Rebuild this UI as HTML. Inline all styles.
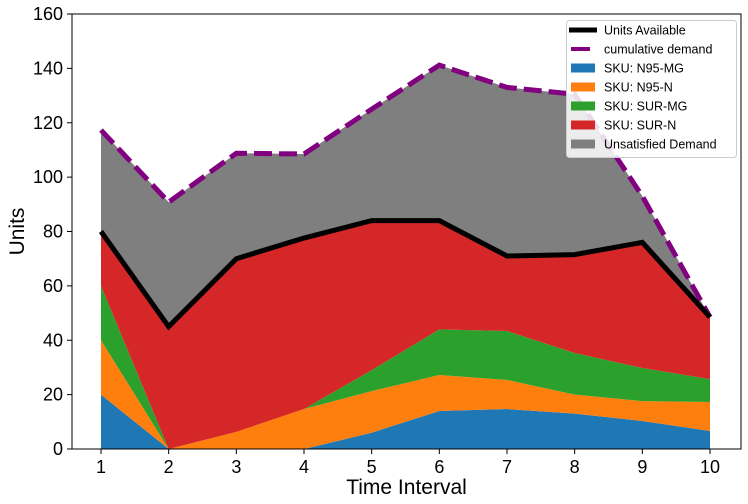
<!DOCTYPE html>
<html><head><meta charset="utf-8"><style>body{margin:0;background:#fff}svg{display:block;font-family:"Liberation Sans","DejaVu Sans",sans-serif}</style></head>
<body>
<svg id="chart" width="748" height="504"></svg>
<script>
const categories=[1,2,3,4,5,6,7,8,9,10];
const n95mg=[20,0,0,0,6,14,14.7,13,10.3,6.6];
const n95n=[20,0,6.3,14.7,15.3,13.2,10.7,7,7.3,10.7];
const surmg=[20,0,0,0,7.7,16.8,18,15.3,12.2,8.4];
const available=[80,45,70,77.6,84,84,71,71.5,76,48.5];
const demand=[117.3,90.8,108.8,108.5,125,141.2,133,130.5,93,48.5];
const yTicks=[0,20,40,60,80,100,120,140,160];
const L=72,R=741,T=14,B=449;
const x=v=>101+(v-1)*(710-101)/9;
const y=v=>B-v*(B-T)/160;
const NS="http://www.w3.org/2000/svg";
const svg=document.getElementById('chart');
function el(t,a,p){const e=document.createElementNS(NS,t);for(const k in a)e.setAttribute(k,a[k]);(p||svg).appendChild(e);return e;}
const c1=n95mg.map(v=>v);
const c2=c1.map((v,i)=>v+n95n[i]);
const c3=c2.map((v,i)=>v+surmg[i]);
const c4=available.slice();
const c5=demand.slice();
const zero=categories.map(()=>0);
function area(lo,hi,color,name){
  let d='M'+categories.map((c,i)=>x(c)+','+y(hi[i])).join('L');
  for(let i=categories.length-1;i>=0;i--)d+='L'+x(categories[i])+','+y(lo[i]);
  const p=el('path',{d:d+'Z',fill:color});
  
  
}
area(zero,c1,'#1f77b4','area-n95-mg');
area(c1,c2,'#ff7f0e','area-n95-n');
area(c2,c3,'#2ca02c','area-sur-mg');
area(c3,c4,'#d62728','area-sur-n');
area(c4,c5,'#7f7f7f','area-unsatisfied-demand');
const pl=arr=>'M'+categories.map((c,i)=>x(c)+','+y(arr[i])).join('L');
const dl=el('path',{d:pl(demand),fill:'none',stroke:'#800080','stroke-width':5,'stroke-dasharray':'18,7'});


const al=el('path',{d:pl(available),fill:'none',stroke:'#000','stroke-width':5});


const fr=el('rect',{x:L,y:T,width:R-L,height:B-T,fill:'none',stroke:'#000','stroke-width':1});


yTicks.forEach(t=>{
  el('line',{x1:L-5,x2:L,y1:y(t),y2:y(t),stroke:'#000'});
  const tx=el('text',{x:L-9,y:y(t)+6,'text-anchor':'end','font-size':18});
  tx.textContent=t;
  
  
});
categories.forEach(c=>{
  el('line',{x1:x(c),x2:x(c),y1:B,y2:B+5,stroke:'#000'});
  const tx=el('text',{x:x(c),y:B+24,'text-anchor':'middle','font-size':18});
  tx.textContent=c;
  
  
});
const xt=el('text',{x:(L+R)/2,y:494,'text-anchor':'middle','font-size':21});
xt.textContent='Time Interval';


const yt=el('text',{x:0,y:0,transform:'translate(24,'+((T+B)/2)+') rotate(-90)','text-anchor':'middle','font-size':21});
yt.textContent='Units';


const lg=el('g',{});


el('rect',{x:566.5,y:20.5,width:170,height:137,rx:3,fill:'#fff','fill-opacity':0.85,stroke:'#ccc'},lg);
const items=[['Units Available','line','#000'],['cumulative demand','dash','#800080'],['SKU: N95-MG','rect','#1f77b4'],['SKU: N95-N','rect','#ff7f0e'],['SKU: SUR-MG','rect','#2ca02c'],['SKU: SUR-N','rect','#d62728'],['Unsatisfied Demand','rect','#7f7f7f']];
items.forEach((it,i)=>{
  const cy=30+i*19;
  const g=el('g',{},lg);
  
  
  if(it[1]==='rect')el('rect',{x:571,y:cy-4.5,width:24,height:9,fill:it[2]},g);
  else if(it[1]==='line')el('line',{x1:569,x2:597,y1:cy,y2:cy,stroke:it[2],'stroke-width':5},g);
  else el('line',{x1:571,x2:590,y1:cy,y2:cy,stroke:it[2],'stroke-width':4},g);
  const t=el('text',{x:604,y:cy+4.5,'font-size':12.5},g);
  t.textContent=it[0];
});
</script>
</body></html>
